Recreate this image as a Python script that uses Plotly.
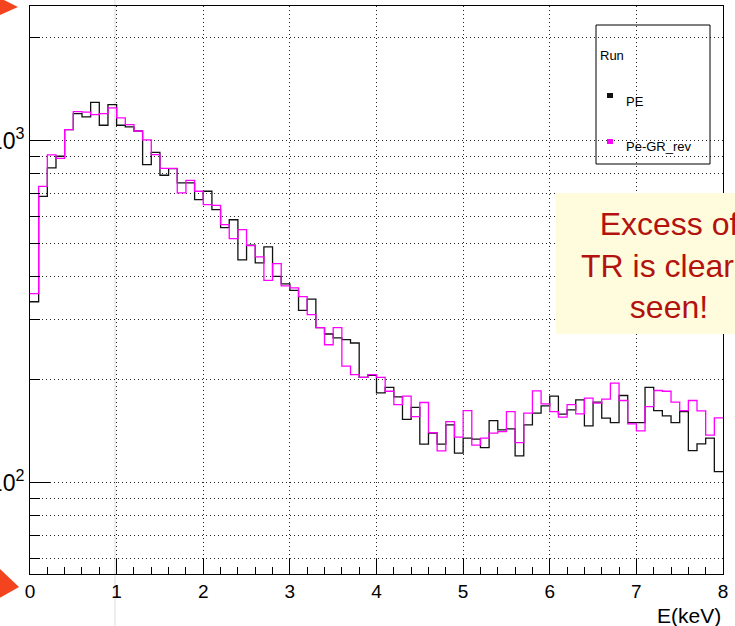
import numpy as np
import plotly.graph_objects as go

# ---- data ----
bin_width = 0.1
n_bins = 80
bin_low = np.round(np.arange(n_bins) * bin_width, 2)   # lower bin edges, keV

pe_counts = [338, 687, 832, 900, 1077, 1200, 1173, 1294, 1109, 1274, 1109, 1097, 1067,
             851, 924, 792, 828, 752, 752, 672, 711, 628, 557, 587, 448, 495, 439, 489,
             401, 381, 365,
             319, 344, 284, 272, 265, 262, 256, 203, 206, 183, 190, 178, 153, 166, 129.5,
             139.5, 129.5, 147.5, 121.9, 134.9, 134, 126.6, 151.8, 142.6, 143.6, 119.7,
             147.5, 159.6, 167.7, 179, 158.5, 163.2, 174.6, 146.5, 172, 154.3, 149.8,
             179.8, 149.8, 149.8, 190, 162.4, 156.8, 149.8, 161.3, 124, 129.8, 134.9, 107.7]

pegr_counts = [357, 735, 908, 887, 1077, 1216, 1211, 1191, 1200, 1247, 1165, 1114, 1067,
               1005, 910, 830, 830, 703, 765, 711, 650, 647, 568, 517, 549, 493, 457, 390,
               437, 376, 371,
               350, 310, 284, 253, 284, 219, 207, 203, 207, 203, 185, 169, 179, 156, 171.5,
               140, 123.8, 150.8, 135.8, 162.4, 128.7, 134.9, 139.5, 141, 161.3, 130.9,
               159.6, 185.5, 170, 161.3, 155.4, 169, 158.9, 176.6, 170.8, 175.4, 195.4,
               173.8, 148.5, 141.7, 166.9, 185.9, 185, 172, 162.4, 173.8, 162, 137.6, 154.6]

series_names = ["PE", "Pe-GR_rev"]
series_colors = ["#111111", "#ff00ff"]
x_tick_vals = [0, 1, 2, 3, 4, 5, 6, 7, 8]
y_tick_vals = [100, 1000]
y_tick_text = ["10<sup>2</sup>", "10<sup>3</sup>"]
y_minor_vals = [60, 70, 80, 90, 200, 300, 400, 500, 600, 700, 800, 900, 2000]

FONT = "Liberation Sans, Arial, Helvetica, sans-serif"

def step_xy(counts):
    xs = list(bin_low) + [float(bin_low[-1] + bin_width)]
    ys = list(counts) + [counts[-1]]
    return xs, ys

fig = go.Figure()
for name, counts, col in zip(series_names, [pe_counts, pegr_counts], series_colors):
    xs, ys = step_xy(counts)
    fig.add_trace(go.Scatter(x=xs, y=ys, mode="lines", line_shape="hv",
                             line=dict(color=col, width=1.3), name=name,
                             showlegend=False, hoverinfo="skip"))

grid_dash = "1px,3px"
fig.update_xaxes(range=[0, 8], tickvals=x_tick_vals, ticks="inside", ticklen=15,
                 tickwidth=1, tickcolor="black", showline=True, linecolor="black",
                 linewidth=1, mirror=True, showgrid=True, gridcolor="#222",
                 griddash=grid_dash, gridwidth=1, zeroline=False,
                 tickfont=dict(family=FONT, size=19, color="black"),
                 minor=dict(dtick=0.2, ticks="inside", ticklen=7, tickcolor="black",
                            showgrid=False))
fig.update_yaxes(type="log", range=[1.7328, 3.3936], tickvals=y_tick_vals,
                 ticktext=y_tick_text, ticks="inside", ticklen=20, tickwidth=1,
                 tickcolor="black", showline=True, linecolor="black", linewidth=1,
                 mirror=True, showgrid=True, gridcolor="#222", griddash=grid_dash,
                 gridwidth=1, zeroline=False, automargin=False,
                 tickfont=dict(family=FONT, size=23, color="black"),
                 minor=dict(tickmode="array", tickvals=y_minor_vals, ticks="inside",
                            ticklen=10, tickcolor="black", showgrid=True,
                            gridcolor="#222", griddash=grid_dash, gridwidth=1))

def px(xpix):
    return (xpix - 30) / 693.0

def py(ypix):
    return (574 - ypix) / 568.0

def tri_path(pts):
    return "M " + " L ".join(f"{px(a):.5f},{py(b):.5f}" for a, b in pts) + " Z"

ARROW_RED = "#f4431f"

shapes = [
    # thin grey slide guide line
    dict(type="line", xref="paper", yref="paper", x0=px(115), x1=px(115), y0=-0.1, y1=1.05,
         line=dict(color="#dddddd", width=1), layer="below"),
    # legend box
    dict(type="rect", xref="paper", yref="paper", x0=px(596), x1=px(710), y0=py(164), y1=py(25),
         line=dict(color="black", width=1), fillcolor="rgba(0,0,0,0)", layer="above"),
    # legend markers
    dict(type="rect", xref="paper", yref="paper", x0=px(607), x1=px(613), y0=py(98), y1=py(93),
         line=dict(width=0), fillcolor=series_colors[0], layer="above"),
    dict(type="rect", xref="paper", yref="paper", x0=px(607), x1=px(613), y0=py(144), y1=py(139),
         line=dict(width=0), fillcolor=series_colors[1], layer="above"),
    # yellow callout box
    dict(type="rect", xref="paper", yref="paper", x0=px(556), x1=px(790), y0=py(334), y1=py(193),
         line=dict(width=0), fillcolor="#fefcdc", layer="above"),
    # red slide arrowheads (pointing at the frame top and x origin)
    dict(type="path", xref="paper", yref="paper",
         path=tri_path([(-2, -3), (18, 7), (-2, 16)]),
         line=dict(width=0), fillcolor=ARROW_RED, layer="above"),
    dict(type="path", xref="paper", yref="paper",
         path=tri_path([(-2, 567), (19, 587), (-2, 599)]),
         line=dict(width=0), fillcolor=ARROW_RED, layer="above"),
]

annotations = [
    dict(text="Run", xref="paper", yref="paper", x=px(598), y=py(55),
         xanchor="left", yanchor="middle", showarrow=False,
         font=dict(family=FONT, size=13, color="black")),
    dict(text=series_names[0], xref="paper", yref="paper", x=px(624), y=py(101),
         xanchor="left", yanchor="middle", showarrow=False,
         font=dict(family=FONT, size=13, color="black")),
    dict(text=series_names[1], xref="paper", yref="paper", x=px(624), y=py(147),
         xanchor="left", yanchor="middle", showarrow=False,
         font=dict(family=FONT, size=13, color="black")),
    dict(text="Excess of<br>TR is clearly<br>seen!", xref="paper", yref="paper",
         x=px(669), y=py(266), xanchor="center", yanchor="middle",
         showarrow=False, align="center",
         font=dict(family=FONT, size=32, color="#b3120f")),
    dict(text="E(keV)", xref="paper", yref="paper", x=1.0, y=py(615),
         xanchor="right", yanchor="middle", showarrow=False,
         font=dict(family=FONT, size=21, color="black")),
]

fig.update_layout(width=735, height=626,
                  margin=dict(l=30, r=12, t=6, b=52, autoexpand=False),
                  paper_bgcolor="white", plot_bgcolor="rgba(0,0,0,0)",
                  showlegend=False, shapes=shapes, annotations=annotations,
                  font=dict(family=FONT))

fig.write_html("out.html", config={"displayModeBar": False},
               post_script="document.body.style.margin='0px';")
